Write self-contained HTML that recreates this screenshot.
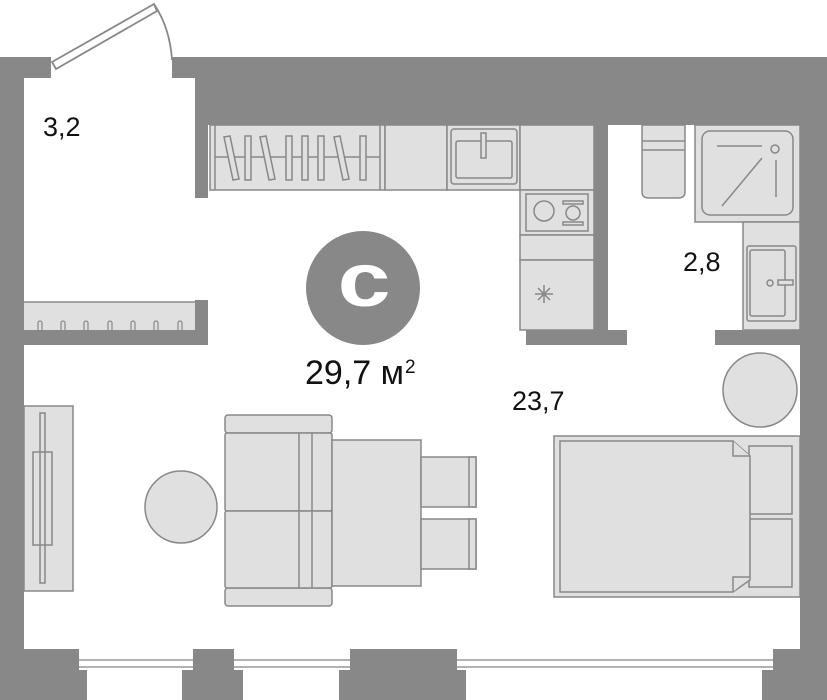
<!DOCTYPE html>
<html><head><meta charset="utf-8"><style>
html,body{margin:0;padding:0;background:#fff}
svg{display:block}
text{font-family:"Liberation Sans",sans-serif;fill:#111}
</style></head><body>
<svg width="827" height="700" viewBox="0 0 827 700" xmlns="http://www.w3.org/2000/svg">
<g fill="#888">
<rect x="0" y="57" width="24" height="643"/>
<rect x="0" y="57" width="51" height="21"/>
<rect x="172" y="57" width="655" height="21"/>
<rect x="195" y="57" width="605" height="68"/>
<rect x="195" y="78" width="13" height="120"/>
<rect x="800" y="57" width="27" height="643"/>
<rect x="594" y="125" width="14" height="205"/>
<rect x="526" y="330" width="101" height="15"/>
<rect x="715" y="330" width="85" height="15"/>
<rect x="195" y="300" width="13" height="45"/>
<rect x="24" y="330" width="184" height="15"/>
<rect x="0" y="649" width="79" height="21"/><rect x="0" y="670" width="87" height="30"/>
<rect x="193" y="649" width="41" height="21"/><rect x="182" y="670" width="61" height="30"/>
<rect x="350" y="649" width="107" height="21"/><rect x="339" y="670" width="127" height="30"/>
<rect x="773" y="649" width="27" height="21"/><rect x="762" y="670" width="65" height="30"/>
</g>
<g fill="none" stroke="#999" stroke-width="1.5">
<line x1="79" y1="660" x2="193" y2="660"/><line x1="79" y1="667" x2="193" y2="667"/>
<line x1="234" y1="660" x2="350" y2="660"/><line x1="234" y1="667" x2="350" y2="667"/>
<line x1="457" y1="660" x2="773" y2="660"/><line x1="457" y1="667" x2="773" y2="667"/>
</g>
<g fill="none" stroke="#888" stroke-width="1.8">
<polygon points="52,62 154,4 157,11 56,69" fill="#fff"/>
<path d="M154,4 Q170,28 172,60"/>
</g>
<g fill="#e0e0e0" stroke="#888" stroke-width="1.5">
<rect x="210" y="125" width="175" height="65"/>
<line x1="215" y1="125" x2="215" y2="190"/><line x1="380" y1="125" x2="380" y2="190"/>
<line x1="215" y1="157" x2="380" y2="157"/>
<rect x="385" y="125" width="62" height="65"/>
<rect x="447" y="125" width="73" height="65"/>
<rect x="451" y="129" width="66" height="55" rx="3"/>
<rect x="456" y="141" width="56" height="37" rx="2"/>
<rect x="481" y="133" width="5" height="25"/>
<rect x="520" y="125" width="74" height="65"/>
<rect x="520" y="190" width="74" height="45"/>
<rect x="526" y="194" width="62" height="37"/>
<circle cx="544" cy="211" r="10"/>
<rect x="563" y="201" width="20" height="3"/><rect x="563" y="222" width="20" height="3"/>
<circle cx="573" cy="213" r="7"/>
<rect x="520" y="235" width="74" height="25"/>
<rect x="520" y="260" width="74" height="70"/>
<path d="M642,125 H685 V192 Q685,198 678,198 H649 Q642,198 642,192 Z"/>
<line x1="642" y1="141" x2="685" y2="141"/><line x1="642" y1="150" x2="685" y2="150"/>
<rect x="695" y="125" width="105" height="97"/>
<rect x="702" y="131" width="91" height="84" rx="8"/>
<rect x="743" y="222" width="57" height="108"/>
<rect x="747" y="246" width="49" height="75" rx="2"/>
<rect x="750" y="250" width="35" height="66" rx="2"/>
<rect x="778" y="280" width="15" height="5"/>
<circle cx="770" cy="283" r="3"/>
<circle cx="760" cy="390" r="37"/>
<rect x="24" y="302" width="171" height="28" stroke="none"/>
<line x1="24" y1="302" x2="195" y2="302"/>
<rect x="24" y="406" width="49" height="185"/>
<rect x="40" y="413" width="5" height="170"/>
<rect x="33" y="452" width="19" height="93" fill="none"/>
<circle cx="181" cy="507" r="36"/>
<rect x="225" y="415" width="107" height="18" rx="3"/>
<rect x="225" y="588" width="107" height="18" rx="3"/>
<rect x="225" y="433" width="107" height="78" rx="2"/>
<rect x="225" y="511" width="107" height="77" rx="2"/>
<line x1="299" y1="433" x2="299" y2="588"/><line x1="312" y1="433" x2="312" y2="588"/>
<rect x="332" y="440" width="89" height="146"/>
<rect x="421" y="457" width="55" height="50"/>
<rect x="469" y="457" width="7" height="50"/>
<rect x="421" y="519" width="55" height="50"/>
<rect x="469" y="519" width="7" height="50"/>
<rect x="554" y="436" width="246" height="161"/>
<rect x="749" y="446" width="43" height="68"/>
<rect x="749" y="519" width="43" height="68"/>
<path d="M560,441 H733 L750,456 V580 L733,592 H560 Z"/>
<path d="M733,441 V456 H750 M733,592 V577 H750"/>
</g>
<g stroke="#888" stroke-width="1.5" fill="#e0e0e0">
<polygon points="224,137 230,136 239,179 233,180"/>
<rect x="245" y="136" width="6" height="44"/>
<polygon points="260,137 266,136 275,179 269,180"/>
<rect x="286" y="136" width="6" height="44"/><rect x="302" y="136" width="6" height="44"/>
<rect x="318" y="136" width="6" height="44"/>
<polygon points="334,137 340,136 349,179 343,180"/>
<rect x="360" y="136" width="6" height="44"/>
</g>
<g stroke="#888" stroke-width="1.5" fill="none">
<line x1="717" y1="146" x2="762" y2="146"/><line x1="762" y1="158" x2="722" y2="206"/>
<circle cx="775" cy="149" r="4"/><line x1="776" y1="160" x2="776" y2="197"/>
<path d="M544,285 v18 M535,294 h18 M538,288 l12,12 M550,288 l-12,12"/>
<g stroke-width="1.2"><path d="M38,330 v-7 a2,2 0 0 1 4,0 v7 M61,330 v-7 a2,2 0 0 1 4,0 v7 M84,330 v-7 a2,2 0 0 1 4,0 v7 M108,330 v-7 a2,2 0 0 1 4,0 v7 M131,330 v-7 a2,2 0 0 1 4,0 v7 M154,330 v-7 a2,2 0 0 1 4,0 v7 M178,330 v-7 a2,2 0 0 1 4,0 v7"/></g>
</g>
<circle cx="363" cy="288" r="57" fill="#888"/>
<text x="0" y="0" text-anchor="middle" transform="translate(364,306) scale(1.25,1)" style="font-size:76px;font-weight:bold;fill:#fff">c</text>
<text x="43" y="136" style="font-size:27px">3,2</text>
<text x="683" y="271" style="font-size:27px">2,8</text>
<text x="512" y="410" style="font-size:27px">23,7</text>
<text x="305" y="384" style="font-size:34px">29,7 м</text>
<text x="405" y="373" style="font-size:19px">2</text>
</svg>
</body></html>
